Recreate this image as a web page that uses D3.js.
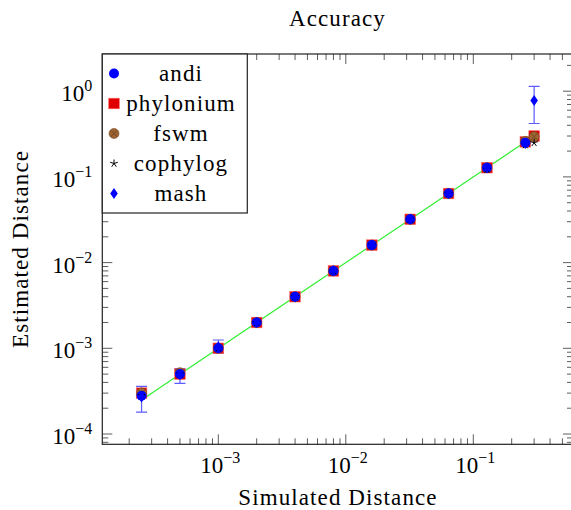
<!DOCTYPE html>
<html>
<head>
<meta charset="utf-8">
<script src="https://cdn.jsdelivr.net/npm/d3@7"></script>
<style>
  body { margin: 0; background: #fff; }
  text { font-family: "Liberation Serif", "DejaVu Serif", serif; fill: #000; }
  .lbl { letter-spacing: 1.1px; }
</style>
</head>
<body>
<div id="chart"></div>
<script>
// simulated distances (x) and estimated distances per tool (y)
const distances = [0.00025, 0.0005, 0.001, 0.002, 0.004, 0.008, 0.016, 0.032, 0.064, 0.128, 0.256, 0.3]
const andi = [0.00028, 0.0005, 0.001, 0.002, 0.004, 0.008, 0.016, 0.032, 0.064, 0.128, 0.25, null]
const phylonium = [0.0003, 0.0005, 0.001, 0.002, 0.004, 0.008, 0.016, 0.032, 0.064, 0.128, 0.256, 0.3]
const fswm = [0.0003, 0.00052, 0.001, 0.002, 0.004, 0.008, 0.016, 0.032, 0.064, 0.128, 0.26, 0.295]
const cophylog = [0.00028, 0.0005, 0.001, 0.002, 0.004, 0.008, 0.016, 0.032, 0.064, 0.122, 0.235, 0.25]
const mash = [0.00027, 0.00049, 0.00104, 0.002, 0.004, 0.0081, 0.016, 0.032, 0.064, 0.128, 0.245, 0.78]
const mashLow = [0.00018, 0.00039, 0.00088, 0.0019, 0.0039, 0.0079, 0.0157, 0.0315, 0.063, 0.126, 0.24, 0.42]
const mashHigh = [0.00036, 0.00058, 0.00125, 0.0021, 0.0041, 0.0083, 0.0163, 0.0325, 0.065, 0.13, 0.25, 1.14]
// y = x reference line
const reference = [0.00025, 0.256]
const xTicks = [1e-3, 1e-2, 1e-1]
const yTicks = [1e-4, 1e-3, 1e-2, 1e-1, 1]
const legendNames = ["andi", "phylonium", "fswm", "cophylog", "mash"]

let width = 571, height = 510
let pLeft = 102.3, pRight = 573, pTop = 54, pBottom = 444.3
let svg = d3.select("#chart")
    .append("svg")
    .attr("width", width)
    .attr("height", height)

let x = d3.scaleLog().domain([Math.pow(10, -3.91), Math.pow(10, -0.218)]).range([pLeft, pRight])
let y = d3.scaleLog().domain([Math.pow(10, -4.12), Math.pow(10, 0.434)]).range([pBottom, pTop])

// minor ticks for a log scale
function minorTicks(scale) {
    let [a, b] = scale.domain()
    let out = []
    for (let e = Math.floor(Math.log10(a)); e <= Math.ceil(Math.log10(b)); e++) {
        for (let m = 2; m <= 9; m++) {
            let v = m * Math.pow(10, e)
            if (v >= a && v <= b) out.push(v)
        }
    }
    return out
}

let major = 10, minor = 6
let ticksG = svg.append("g").attr("stroke", "#333").attr("stroke-width", 0.8)
minorTicks(x).forEach(v => {
    ticksG.append("path").attr("d", `M${x(v)},${pBottom} V${pBottom - minor} M${x(v)},${pTop} V${pTop + minor}`)
})
xTicks.forEach(v => {
    ticksG.append("path").attr("d", `M${x(v)},${pBottom} V${pBottom - major} M${x(v)},${pTop} V${pTop + major}`)
})
minorTicks(y).forEach(v => {
    ticksG.append("path").attr("d", `M${pLeft},${y(v)} H${pLeft + minor} M${pRight},${y(v)} H${pRight - minor}`)
})
yTicks.forEach(v => {
    ticksG.append("path").attr("d", `M${pLeft},${y(v)} H${pLeft + major} M${pRight},${y(v)} H${pRight - major}`)
})

// tick labels 10^k
function powLabel(sel, v) {
    let e = Math.round(Math.log10(v))
    sel.append("tspan").text("10")
    sel.append("tspan").attr("font-size", 16).attr("dy", -10).text(e < 0 ? "\u2212" + (-e) : e)
}
xTicks.forEach(v => {
    let t = svg.append("text")
        .attr("x", x(v) + 2)
        .attr("y", pBottom + 29)
        .attr("font-size", 23)
        .attr("text-anchor", "middle")
    powLabel(t, v)
})
yTicks.forEach(v => {
    let t = svg.append("text")
        .attr("x", pLeft - 10)
        .attr("y", y(v) + 10)
        .attr("font-size", 23)
        .attr("text-anchor", "end")
    powLabel(t, v)
})

// reference line
svg.append("path")
    .datum(reference)
    .attr("fill", "none")
    .attr("stroke", "#33ee33")
    .attr("stroke-width", 1.2)
    .attr("d", d3.line().x(d => x(d)).y(d => y(d)))

// marker painters
const markers = {
    andi: (g) => g.append("circle").attr("r", 5).attr("fill", "#0000ff"),
    phylonium: (g) => g.append("rect").attr("x", -5.3).attr("y", -5.3).attr("width", 10.6).attr("height", 10.6)
        .attr("fill", "#e00000").attr("stroke", "#ff6666").attr("stroke-width", 0.6),
    fswm: (g) => {
        g.append("circle").attr("r", 5).attr("fill", "#9c6433").attr("stroke", "#7a4a22").attr("stroke-width", 0.6)
        g.append("path").attr("d", "M-3.5,-3.5 L3.5,3.5 M-3.5,3.5 L3.5,-3.5").attr("stroke", "#6b3f1c").attr("stroke-width", 0.7)
    },
    cophylog: (g) => {
        let d = ""
        for (let k = 0; k < 5; k++) {
            let a = -Math.PI / 2 + k * 2 * Math.PI / 5
            d += `M0,0 L${(4 * Math.cos(a)).toFixed(2)},${(4 * Math.sin(a)).toFixed(2)} `
        }
        g.append("path").attr("d", d).attr("stroke", "#000").attr("stroke-width", 1)
    },
    mash: (g) => g.append("path").attr("d", "M0,-5.5 L3.8,0 L0,5.5 L-3.8,0 Z").attr("fill", "#0000ff")
}

// mash error bars
let errG = svg.append("g").attr("stroke", "#3333ff").attr("stroke-opacity", 0.8).attr("stroke-width", 1.2)
distances.forEach((d, i) => {
    let x0 = x(d), y0 = y(mashLow[i]), y1 = y(mashHigh[i])
    if (y0 - y1 < 4) return
    errG.append("path").attr("d", `M${x0},${y0} V${y1} M${x0 - 5.5},${y0} H${x0 + 5.5} M${x0 - 5.5},${y1} H${x0 + 5.5}`)
})

// points, drawn in the stacking order of the picture
const series = [["phylonium", phylonium], ["fswm", fswm], ["andi", andi], ["cophylog", cophylog], ["mash", mash]]
series.forEach(([name, values]) => {
    let g = svg.append("g").attr("class", `${name}-points`)
    distances.forEach((d, i) => {
        if (values[i] == null) return
        let p = g.append("g").attr("transform", `translate(${x(d)},${y(values[i])})`)
        markers[name](p)
    })
})

// axis box
svg.append("rect")
    .attr("x", pLeft).attr("y", pTop)
    .attr("width", pRight - pLeft).attr("height", pBottom - pTop)
    .attr("fill", "none").attr("stroke", "#222").attr("stroke-width", 1.2)

// legend
let lg = svg.append("g")
lg.append("rect")
    .attr("x", pLeft).attr("y", pTop)
    .attr("width", 145).attr("height", 159)
    .attr("fill", "#fff").attr("stroke", "#222").attr("stroke-width", 1.2)
legendNames.forEach((name, i) => {
    let cy = 73.5 + i * 30
    let p = lg.append("g").attr("transform", `translate(114,${cy})`)
    markers[name](p)
    lg.append("text")
        .attr("class", "lbl")
        .attr("x", 181)
        .attr("y", cy + 7)
        .attr("font-size", 23)
        .attr("text-anchor", "middle")
        .text(name)
})

// titles
svg.append("text")
    .attr("class", "lbl")
    .attr("x", 337.5).attr("y", 26)
    .attr("font-size", 23)
    .attr("text-anchor", "middle")
    .text("Accuracy")
svg.append("text")
    .attr("class", "lbl")
    .attr("x", 338).attr("y", 505)
    .attr("font-size", 23)
    .attr("text-anchor", "middle")
    .text("Simulated Distance")
svg.append("text")
    .attr("class", "lbl")
    .attr("transform", "translate(28,249) rotate(-90)")
    .attr("font-size", 23)
    .attr("text-anchor", "middle")
    .text("Estimated Distance")
</script>
</body>
</html>
